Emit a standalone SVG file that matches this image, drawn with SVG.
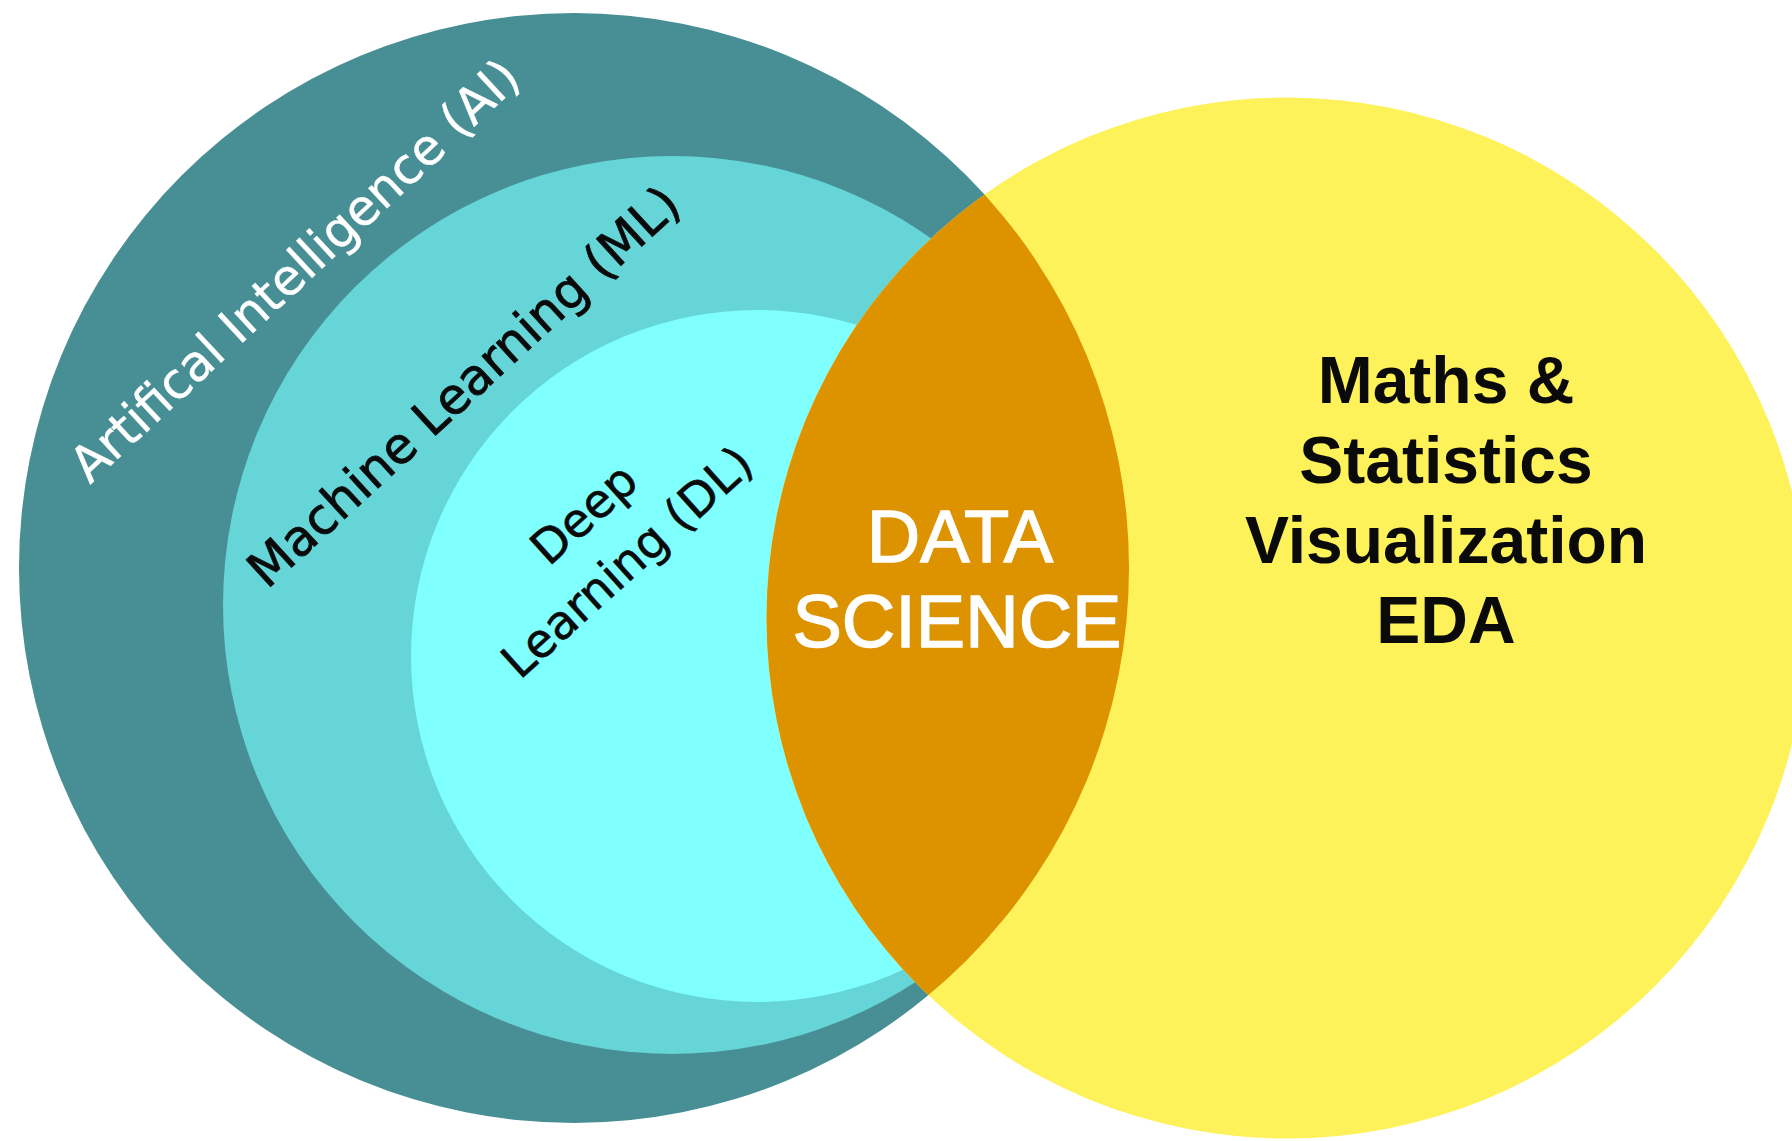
<svg xmlns="http://www.w3.org/2000/svg" width="1792" height="1141" viewBox="0 0 1792 1141">
  <style>
    .ring-label { font-family: "DejaVu Sans", Verdana, sans-serif; }
    .ai-label { fill: #ffffff; font-size: 50px; stroke: #ffffff; stroke-width: 0.4px; }
    .ml-label { fill: #0a0a0a; font-size: 50px; stroke: #0a0a0a; stroke-width: 0.8px; }
    .dl-label { fill: #0a0a0a; font-size: 47px; text-anchor: middle; stroke: #0a0a0a; stroke-width: 0.6px; }
    .ds-label { font-family: "Liberation Sans", Arial, sans-serif; fill: #ffffff; font-size: 74px; text-anchor: middle; stroke: #ffffff; stroke-width: 1.4px; }
    .ms-label { font-family: "Liberation Sans", Arial, sans-serif; fill: #0a0a0a; font-size: 66px; font-weight: bold; text-anchor: middle; }
  </style>
  <defs>
    <clipPath id="ai-clip">
      <circle cx="574" cy="568" r="555"/>
    </clipPath>
  </defs>
  <rect width="1792" height="1141" fill="#ffffff"/>

  <!-- nested AI / ML / DL discs -->
  <g id="node-ai">
    <circle cx="574" cy="568" r="555" fill="#478f95"/>
    <text class="ring-label ai-label" x="90" y="485" transform="rotate(-43 90 485)" textLength="592" lengthAdjust="spacingAndGlyphs">Artifical Intelligence (AI)</text>
  </g>
  <g id="node-ml">
    <circle cx="672" cy="605" r="449" fill="#66d5d7"/>
    <text class="ring-label ml-label" x="267" y="590" transform="rotate(-42.5 267 590)" textLength="565" lengthAdjust="spacingAndGlyphs">Machine Learning (ML)</text>
  </g>
  <g id="node-dl">
    <circle cx="757" cy="656" r="346" fill="#80ffff"/>
    <g transform="rotate(-42 638 574)">
      <text class="ring-label dl-label" x="638" y="509.3">Deep</text>
      <text class="ring-label dl-label" x="638" y="574">Learning (DL)</text>
    </g>
  </g>

  <!-- maths & statistics disc -->
  <g id="node-maths">
    <circle cx="1287" cy="618" r="520.5" fill="#fef25a"/>
    <text class="ms-label" x="1446" y="403">Maths &amp;</text>
    <text class="ms-label" x="1446" y="483">Statistics</text>
    <text class="ms-label" x="1446" y="563">Visualization</text>
    <text class="ms-label" x="1446" y="643">EDA</text>
  </g>

  <!-- overlap of the two discs -->
  <g id="node-data-science">
    <circle cx="1287" cy="618" r="520.5" fill="#dd9200" clip-path="url(#ai-clip)"/>
    <text class="ds-label" x="960" y="562">DATA</text>
    <text class="ds-label" x="957" y="647">SCIENCE</text>
  </g>
</svg>
